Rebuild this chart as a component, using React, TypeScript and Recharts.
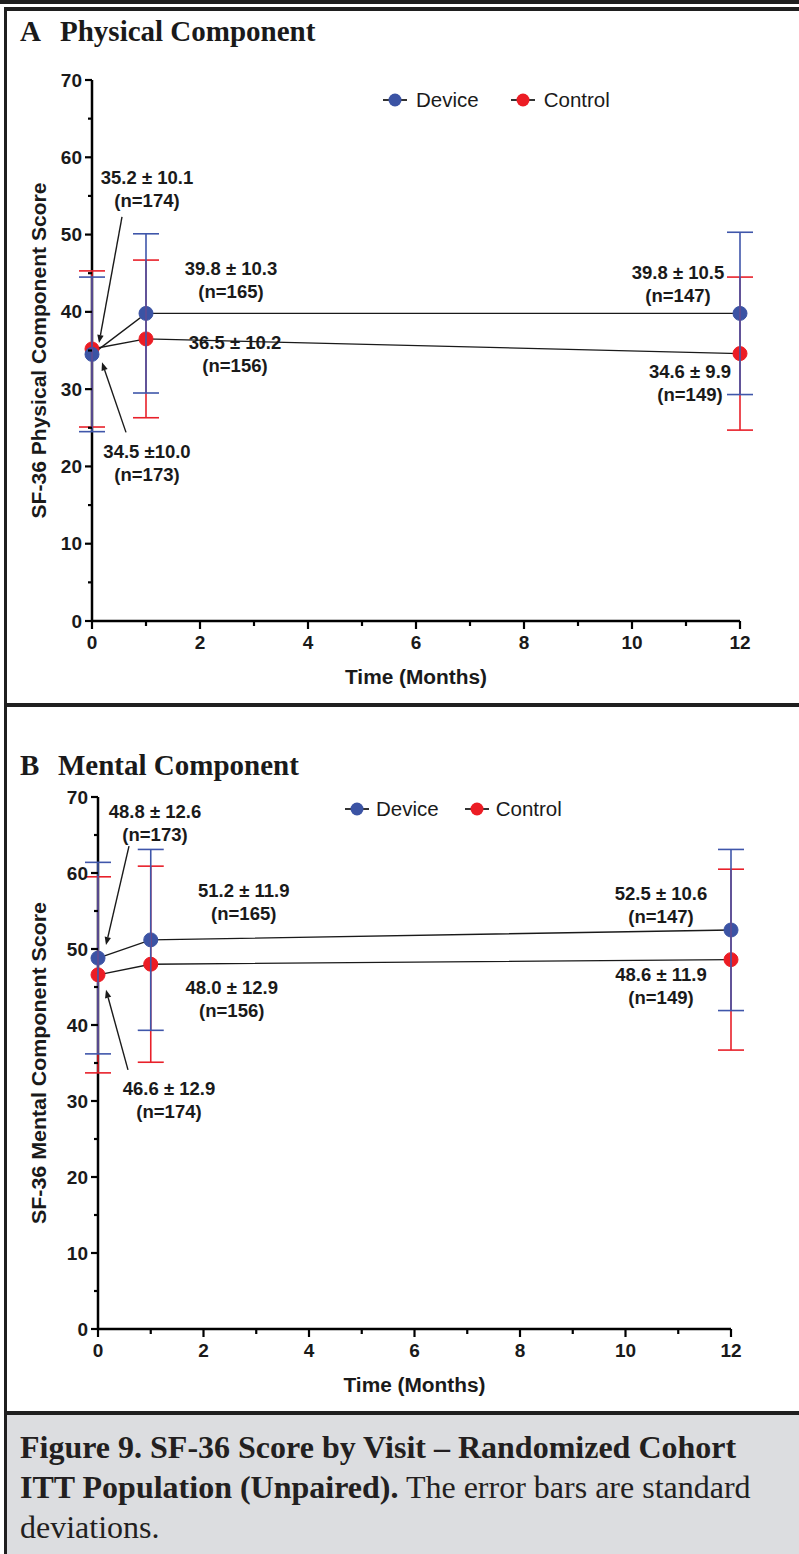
import React from "react";
import { ComposedChart, Line, XAxis, YAxis, ErrorBar, ReferenceDot, Legend, Label } from "recharts";

// visit months
const months = [0, 1, 12];
const xTicks = [0, 1, 2, 3, 4, 5, 6, 7, 8, 9, 10, 11, 12];
const yTicks = [0, 5, 10, 15, 20, 25, 30, 35, 40, 45, 50, 55, 60, 65, 70];

// A: physical component
const physDeviceMean = [34.5, 39.8, 39.8];
const physDeviceSd = [10.0, 10.3, 10.5];
const physDeviceN = [173, 165, 147];
const physControlMean = [35.2, 36.5, 34.6];
const physControlSd = [10.1, 10.2, 9.9];
const physControlN = [174, 156, 149];

// B: mental component
const mentDeviceMean = [48.8, 51.2, 52.5];
const mentDeviceSd = [12.6, 11.9, 10.6];
const mentDeviceN = [173, 165, 147];
const mentControlMean = [46.6, 48.0, 48.6];
const mentControlSd = [12.9, 12.9, 11.9];
const mentControlN = [174, 156, 149];

const seriesNames = ["Device", "Control"];
const BLUE = "#3b53a4";
const RED = "#ec1c24";
const BLUE_BAR = "#3f56aa";
const RED_BAR = "#e8202a";
const INK = "#1a1a1a";
const SANS = '"Liberation Sans", Arial, sans-serif';
const SERIF = '"Liberation Serif", "Times New Roman", serif';

type Spec = { dx: number; dy: number; arrow?: number[]; tight?: boolean };

// where each value label sits relative to its point (px)
const physDeviceSpec: Spec[] = [
  { dx: 55, dy: 97, arrow: [34, 78, 10, 8], tight: true },
  { dx: 85, dy: -45 },
  { dx: -62, dy: -41 },
];
const physControlSpec: Spec[] = [
  { dx: 55, dy: -171, arrow: [30, -132, 7, -6] },
  { dx: 89, dy: 4 },
  { dx: -50, dy: 18 },
];
const mentDeviceSpec: Spec[] = [
  { dx: 57, dy: -147, arrow: [31, -112, 8, -13] },
  { dx: 93, dy: -49 },
  { dx: -70, dy: -37 },
];
const mentControlSpec: Spec[] = [
  { dx: 71, dy: 114, arrow: [30, 95, 8, 15] },
  { dx: 81, dy: 23 },
  { dx: -70, dy: 15 },
];

const rows = (mean: number[], sd: number[], n: number[]) =>
  months.map((m, i) => ({ month: m, mean: mean[i], sd: sd[i], n: n[i] }));

const XTick = (props: any) => {
  const { x, y, payload } = props;
  const major = payload.value % 2 === 0;
  return (
    <g>
      <line x1={x} x2={x} y1={y} y2={y + (major ? 8 : 5)} stroke="#000" strokeWidth={2.2} />
      {major && (
        <text x={x} y={y + 21} textAnchor="middle" dominantBaseline="central" fontFamily={SANS} fontWeight="bold" fontSize={19} fill={INK}>
          {payload.value}
        </text>
      )}
    </g>
  );
};

const YTick = (props: any) => {
  const { x, y, payload } = props;
  const major = payload.value % 10 === 0;
  return (
    <g>
      <line x1={x - (major ? 7 : 4)} x2={x} y1={y} y2={y} stroke="#000" strokeWidth={2.2} />
      {major && (
        <text x={x - 10} y={y} textAnchor="end" dominantBaseline="central" fontFamily={SANS} fontWeight="bold" fontSize={19} fill={INK}>
          {payload.value}
        </text>
      )}
    </g>
  );
};

const Arrow = ({ x1, y1, x2, y2 }: any) => {
  const len = Math.hypot(x2 - x1, y2 - y1);
  const ux = (x2 - x1) / len;
  const uy = (y2 - y1) / len;
  const bx = x2 - ux * 8;
  const by = y2 - uy * 8;
  const pts = `${x2},${y2} ${bx - uy * 3.2},${by + ux * 3.2} ${bx + uy * 3.2},${by - ux * 3.2}`;
  return (
    <g>
      <line x1={x1} y1={y1} x2={bx} y2={by} stroke={INK} strokeWidth={1.4} />
      <polygon points={pts} fill={INK} />
    </g>
  );
};

const annotation = (spec: Spec, mean: number, sd: number, n: number) => (p: any) => {
  const { cx, cy } = p;
  const tx = cx + spec.dx;
  const ty = cy + spec.dy;
  const txt = { textAnchor: "middle" as const, dominantBaseline: "central" as const, fontFamily: SANS, fontWeight: "bold", fontSize: 18.5, fill: INK };
  return (
    <g>
      <text x={tx} y={ty} {...txt}>{`${mean.toFixed(1)} ±${spec.tight ? "" : " "}${sd.toFixed(1)}`}</text>
      <text x={tx} y={ty + 23} {...txt}>{`(n=${n})`}</text>
      {spec.arrow && <Arrow x1={cx + spec.arrow[0]} y1={cy + spec.arrow[1]} x2={cx + spec.arrow[2]} y2={cy + spec.arrow[3]} />}
    </g>
  );
};

const LegendRow = ({ gap, textGap }: { gap: number; textGap: number }) => (
  <div style={{ display: "flex", alignItems: "center", fontFamily: SANS, fontSize: 20.5, color: INK, whiteSpace: "nowrap" }}>
    {seriesNames.map((name, i) => (
      <div key={name} style={{ display: "flex", alignItems: "center", marginRight: i === 0 ? gap : 0 }}>
        <svg width={28} height={16}>
          <line x1={2} x2={26} y1={8} y2={8} stroke="#000" strokeWidth={1.6} />
          <circle cx={14} cy={8} r={6.5} fill={i === 0 ? BLUE : RED} />
        </svg>
        <span style={{ marginLeft: textGap }}>{name}</span>
      </div>
    ))}
  </div>
);

type PanelProps = {
  width: number;
  height: number;
  margin: any;
  yWidth: number;
  xHeight: number;
  yTitle: string;
  yTitleLength: number;
  device: any[];
  control: any[];
  deviceSpec: Spec[];
  controlSpec: Spec[];
  legendPos: { top: number; left: number; gap: number; textGap: number };
};

const Panel = (p: PanelProps) => (
  <ComposedChart width={p.width} height={p.height} margin={p.margin}>
    <XAxis
      dataKey="month"
      type="number"
      domain={[0, 12]}
      ticks={xTicks}
      interval={0}
      height={p.xHeight}
      tickSize={0}
      tickMargin={0}
      tick={<XTick />}
      axisLine={{ stroke: "#000", strokeWidth: 2.5 }}
      tickLine={false}
    >
      <Label
        content={(lp: any) => {
          const vb = lp.viewBox;
          return (
            <text x={vb.x + vb.width / 2} y={vb.y + 56} textAnchor="middle" dominantBaseline="central" fontFamily={SANS} fontWeight="bold" fontSize={20} textLength={142} lengthAdjust="spacingAndGlyphs" fill={INK}>
              Time (Months)
            </text>
          );
        }}
      />
    </XAxis>
    <YAxis
      type="number"
      domain={[0, 70]}
      ticks={yTicks}
      interval={0}
      width={p.yWidth}
      tickSize={0}
      tickMargin={0}
      tick={<YTick />}
      axisLine={{ stroke: "#000", strokeWidth: 2.5 }}
      tickLine={false}
    >
      <Label
        content={(lp: any) => {
          const vb = lp.viewBox;
          const cx = vb.x + 39;
          const cy = vb.y + vb.height / 2;
          return (
            <text x={cx} y={cy} transform={`rotate(-90 ${cx} ${cy})`} textAnchor="middle" dominantBaseline="central" fontFamily={SANS} fontWeight="bold" fontSize={20} textLength={p.yTitleLength} lengthAdjust="spacingAndGlyphs" fill={INK}>
              {p.yTitle}
            </text>
          );
        }}
      />
    </YAxis>
    <Legend
      layout="horizontal"
      verticalAlign="middle"
      align="center"
      content={() => <LegendRow gap={p.legendPos.gap} textGap={p.legendPos.textGap} />}
      wrapperStyle={{ top: p.legendPos.top, left: p.legendPos.left, width: 280, height: 26 }}
    />
    <Line data={p.control} dataKey="mean" name="Control" stroke={INK} strokeWidth={1.4} dot={{ r: 7, fill: RED, stroke: RED, strokeWidth: 1 }} activeDot={false} isAnimationActive={false} />
    <Line data={p.device} dataKey="mean" name="Device" stroke={INK} strokeWidth={1.4} dot={{ r: 7, fill: BLUE, stroke: BLUE, strokeWidth: 1 }} activeDot={false} isAnimationActive={false} />
    <Line data={p.control} dataKey="mean" stroke="none" dot={false} activeDot={false} legendType="none" isAnimationActive={false}>
      <ErrorBar dataKey="sd" direction="y" width={13} stroke={RED_BAR} strokeWidth={1.6} zIndex={700} isAnimationActive={false} />
    </Line>
    <Line data={p.device} dataKey="mean" stroke="none" dot={false} activeDot={false} legendType="none" isAnimationActive={false}>
      <ErrorBar dataKey="sd" direction="y" width={13} stroke={BLUE_BAR} strokeWidth={1.6} zIndex={710} isAnimationActive={false} />
    </Line>
    {p.device.map((r, i) => (
      <ReferenceDot key={`d${i}`} x={r.month} y={r.mean} r={0} shape={annotation(p.deviceSpec[i], r.mean, r.sd, r.n)} />
    ))}
    {p.control.map((r, i) => (
      <ReferenceDot key={`c${i}`} x={r.month} y={r.mean} r={0} shape={annotation(p.controlSpec[i], r.mean, r.sd, r.n)} />
    ))}
  </ComposedChart>
);

const abs = (s: React.CSSProperties): React.CSSProperties => ({ position: "absolute", ...s });

export default function App() {
  const line = "#1f1f1f";
  const title = { fontFamily: SERIF, fontWeight: "bold" as const, fontSize: 29, lineHeight: "29px", color: INK, whiteSpace: "nowrap" as const };
  return (
    <div style={{ position: "absolute", left: 0, top: 0, width: 799, height: 1554, background: "#fff", overflow: "hidden" }}>
      {/* frame */}
      <div style={abs({ left: 0, top: 0, width: 799, height: 3.5, background: line })} />
      <div style={abs({ left: 4, top: 7, width: 795, height: 3.5, background: line })} />
      <div style={abs({ left: 4, top: 7, width: 3, height: 1547, background: line })} />
      <div style={abs({ left: 4, top: 703, width: 795, height: 4, background: line })} />
      <div style={abs({ left: 7, top: 1414, width: 792, height: 140, background: "#dcdde0" })} />
      <div style={abs({ left: 4, top: 1411, width: 795, height: 3.5, background: line })} />

      {/* panel titles */}
      <div style={abs({ left: 20, top: 17, ...title })}>A</div>
      <div style={abs({ left: 60, top: 17, ...title })}>Physical Component</div>
      <div style={abs({ left: 20, top: 751, ...title })}>B</div>
      <div style={abs({ left: 58, top: 751, ...title })}>Mental Component</div>

      <div style={abs({ left: 0, top: 0 })}>
        <Panel
          width={799}
          height={700}
          margin={{ top: 80, right: 59, left: 0, bottom: 0 }}
          yWidth={92}
          xHeight={79}
          yTitle="SF-36 Physical Component Score"
          yTitleLength={336}
          device={rows(physDeviceMean, physDeviceSd, physDeviceN)}
          control={rows(physControlMean, physControlSd, physControlN)}
          deviceSpec={physDeviceSpec}
          controlSpec={physControlSpec}
          legendPos={{ top: 88, left: 381, gap: 30, textGap: 7 }}
        />
      </div>
      <div style={abs({ left: 0, top: 710 })}>
        <Panel
          width={799}
          height={690}
          margin={{ top: 87, right: 68, left: 0, bottom: 0 }}
          yWidth={98}
          xHeight={71}
          yTitle="SF-36 Mental Component Score"
          yTitleLength={322}
          device={rows(mentDeviceMean, mentDeviceSd, mentDeviceN)}
          control={rows(mentControlMean, mentControlSd, mentControlN)}
          deviceSpec={mentDeviceSpec}
          controlSpec={mentControlSpec}
          legendPos={{ top: 87, left: 343, gap: 24, textGap: 5 }}
        />
      </div>

      {/* caption */}
      <div style={abs({ left: 20, top: 1427, width: 775, fontFamily: SERIF, fontSize: 32, lineHeight: "40px", color: "#231f20", whiteSpace: "nowrap" })}>
        <b>Figure 9. SF-36 Score by Visit – Randomized Cohort</b>
        <br />
        <b>ITT Population (Unpaired).</b> The error bars are standard
        <br />
        deviations.
      </div>
    </div>
  );
}
